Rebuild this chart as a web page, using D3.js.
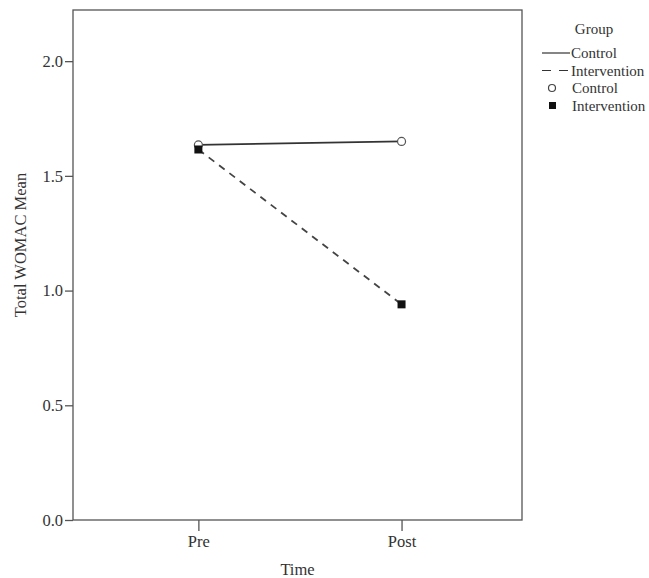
<!DOCTYPE html>
<html>
<head>
<meta charset="utf-8">
<script src="https://cdn.jsdelivr.net/npm/d3@7"></script>
<style>
  body { margin: 0; background: #fff; }
  text { font-family: "Liberation Serif", "Times New Roman", serif; fill: #333; }
</style>
</head>
<body>
<div id="chart"></div>
<script>
const times = ['Pre', 'Post']
const controlMeans = [1.635, 1.65]
const interventionMeans = [1.615, 0.94]
const yTicks = [0, 0.5, 1.0, 1.5, 2.0]

const canvasWidth = 649
const canvasHeight = 578
const margins = {top: 10, right: 127, bottom: 58, left: 73}
const width = canvasWidth - margins.left - margins.right
const height = canvasHeight - margins.top - margins.bottom

const svg = d3
  .select('#chart')
  .append('svg')
  .attr('width', canvasWidth)
  .attr('height', canvasHeight)

const g = svg
  .append('g')
  .attr('transform', `translate(${margins.left}, ${margins.top})`)

const xScale = d3
  .scalePoint()
  .domain(times)
  .range([0, width])
  .padding(0.605)
  .align(0.51)
const yScale = d3.scaleLinear().domain([0, 2.223]).range([height, 0])

// frame
g.append('rect')
  .attr('width', width)
  .attr('height', height)
  .attr('fill', 'none')
  .attr('stroke', '#555')
  .attr('stroke-width', 1.3)

const yAxis = d3
  .axisLeft(yScale)
  .tickValues(yTicks)
  .tickFormat(d3.format('.1f'))
  .tickSize(8)
  .tickPadding(2)

g.append('g')
  .call(yAxis)
  .call(a => a.select('.domain').remove())
  .call(a => a.selectAll('line').attr('stroke', '#555').attr('stroke-width', 1.3))
  .call(a => a.selectAll('text').attr('font-size', 16.5).attr('fill', '#444')
    .style('font-family', '"Liberation Serif", serif'))

const xAxis = d3.axisBottom(xScale).tickSize(11).tickPadding(4)

g.append('g')
  .attr('transform', `translate(0, ${height})`)
  .call(xAxis)
  .call(a => a.select('.domain').remove())
  .call(a => a.selectAll('line').attr('stroke', '#555').attr('stroke-width', 1.3))
  .call(a => a.selectAll('text').attr('font-size', 16.5).attr('fill', '#333')
    .style('font-family', '"Liberation Serif", serif'))

g.append('text')
  .attr('x', width / 2)
  .attr('y', height + 55)
  .attr('text-anchor', 'middle')
  .attr('font-size', 16.5)
  .text('Time')

g.append('text')
  .attr('transform', `translate(${20 - margins.left}, ${245 - margins.top}) rotate(-90)`)
  .attr('text-anchor', 'middle')
  .attr('dy', '0.35em')
  .attr('font-size', 16.5)
  .text('Total WOMAC Mean')

const line = d3
  .line()
  .x((d, i) => xScale(times[i]))
  .y(d => yScale(d))

g.append('path')
  .datum(controlMeans)
  .attr('d', line)
  .attr('fill', 'none')
  .attr('stroke', '#333')
  .attr('stroke-width', 1.8)

g.append('path')
  .datum(interventionMeans)
  .attr('d', line)
  .attr('fill', 'none')
  .attr('stroke', '#444')
  .attr('stroke-width', 1.8)
  .attr('stroke-dasharray', '7,6')

g.selectAll('circle.ctrl')
  .data(controlMeans)
  .enter()
  .append('circle')
  .attr('class', 'ctrl')
  .attr('cx', (d, i) => xScale(times[i]))
  .attr('cy', d => yScale(d))
  .attr('r', 4)
  .attr('fill', '#fff')
  .attr('stroke', '#555')
  .attr('stroke-width', 1.2)

g.selectAll('rect.int')
  .data(interventionMeans)
  .enter()
  .append('rect')
  .attr('class', 'int')
  .attr('x', (d, i) => xScale(times[i]) - 4)
  .attr('y', d => yScale(d) - 4)
  .attr('width', 8)
  .attr('height', 8)
  .attr('fill', '#111')

// legend
const legend = svg.append('g').attr('transform', 'translate(540, 0)')

legend.append('text')
  .attr('x', 54)
  .attr('y', 34)
  .attr('text-anchor', 'middle')
  .attr('font-size', 15)
  .text('Group')

const legendItems = [
  {label: 'Control', kind: 'line', dash: null},
  {label: 'Intervention', kind: 'line', dash: '9,8'},
  {label: 'Control', kind: 'circle'},
  {label: 'Intervention', kind: 'square'},
]

legendItems.forEach((item, i) => {
  const y = 53 + i * 17.5
  if (item.kind === 'line') {
    legend.append('line')
      .attr('x1', 2).attr('x2', 30)
      .attr('y1', y).attr('y2', y)
      .attr('stroke', '#333')
      .attr('stroke-width', 1.2)
      .attr('stroke-dasharray', item.dash)
  } else if (item.kind === 'circle') {
    legend.append('circle')
      .attr('cx', 12).attr('cy', y)
      .attr('r', 3.5)
      .attr('fill', '#fff')
      .attr('stroke', '#444')
      .attr('stroke-width', 1.2)
  } else {
    legend.append('rect')
      .attr('x', 9).attr('y', y - 3.5)
      .attr('width', 7).attr('height', 7)
      .attr('fill', '#111')
  }
  legend.append('text')
    .attr('x', i < 2 ? 31 : 32)
    .attr('y', y)
    .attr('dy', '0.35em')
    .attr('font-size', 15)
    .text(item.label)
})
</script>
</body>
</html>
